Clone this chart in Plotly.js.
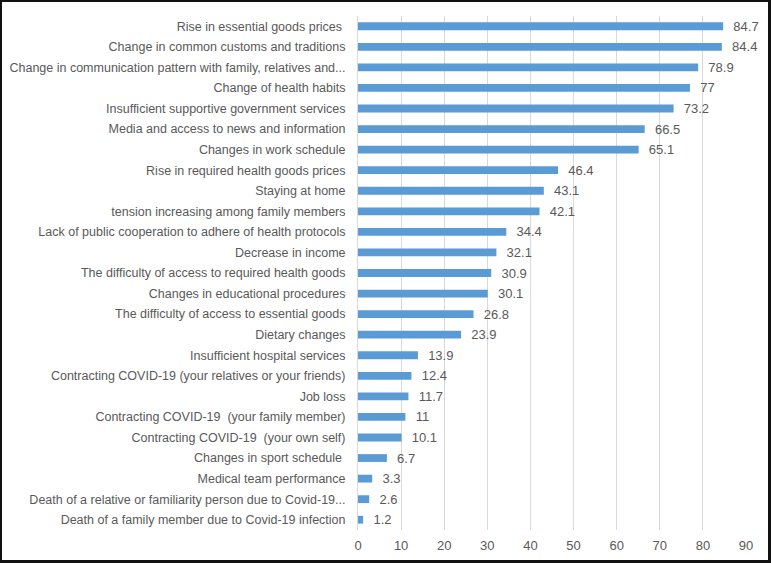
<!DOCTYPE html>
<html><head><meta charset="utf-8">
<script src="https://cdn.plot.ly/plotly-3.0.1.min.js"></script>
<style>
html,body{margin:0;padding:0;background:#fff;}
#frame{width:771px;height:563px;box-sizing:border-box;border-left:2px solid #111;border-top:2px solid #111;border-right:3px solid #111;border-bottom:3px solid #111;overflow:hidden;}
#chart{width:766px;height:558px;}
</style></head>
<body><div id="frame"><div id="chart"></div></div>
<script>
const categories = [
 "Rise in essential goods prices ",
 "Change in common customs and traditions",
 "Change in communication pattern with family, relatives and...",
 "Change of health habits",
 "Insufficient supportive government services",
 "Media and access to news and information",
 "Changes in work schedule",
 "Rise in required health goods prices",
 "Staying at home",
 "tension increasing among family members",
 "Lack of public cooperation to adhere of health protocols",
 "Decrease in income",
 "The difficulty of access to required health goods",
 "Changes in educational procedures",
 "The difficulty of access to essential goods",
 "Dietary changes",
 "Insufficient hospital services",
 "Contracting COVID-19 (your relatives or your friends)",
 "Job loss",
 "Contracting COVID-19  (your family member)",
 "Contracting COVID-19  (your own self)",
 "Changes in sport schedule ",
 "Medical team performance",
 "Death of a relative or familiarity person due to Covid-19...",
 "Death of a family member due to Covid-19 infection"
];
const values = [84.7,84.4,78.9,77,73.2,66.5,65.1,46.4,43.1,42.1,34.4,32.1,30.9,30.1,26.8,23.9,13.9,12.4,11.7,11,10.1,6.7,3.3,2.6,1.2];
const xTicks = [0,10,20,30,40,50,60,70,80,90];

const font = "Liberation Sans, Arial, sans-serif";
Plotly.newPlot('chart', [{
  type:'bar', orientation:'h',
  x: values, y: categories,
  width: 0.38,
  marker:{color:'#5B9BD5', line:{width:0}},
  texttemplate:'\u00a0\u00a0%{x}', textposition:'outside', cliponaxis:false,
  constraintext:'none',
  textfont:{family:font, size:13, color:'#595959'},
  hoverinfo:'skip'
}], {
  width:766, height:558,
  margin:{l:356, r:22, t:14, b:30},
  paper_bgcolor:'#fff', plot_bgcolor:'#fff',
  showlegend:false,
  font:{family:font, color:'#595959'},
  xaxis:{range:[0,90], tickvals:xTicks, showgrid:true, gridcolor:'#d9d9d9', gridwidth:1,
         zeroline:false, showline:false, ticks:'', ticklabelstandoff:6,
         tickfont:{size:13, color:'#595959'}, fixedrange:true},
  yaxis:{autorange:'reversed', type:'category', showgrid:false, zeroline:false,
         showline:true, linecolor:'#d9d9d9', linewidth:1, ticks:'', ticklabelstandoff:9,
         tickfont:{size:12.5, color:'#595959'}, fixedrange:true}
}, {displayModeBar:false, staticPlot:true});
</script></body></html>
